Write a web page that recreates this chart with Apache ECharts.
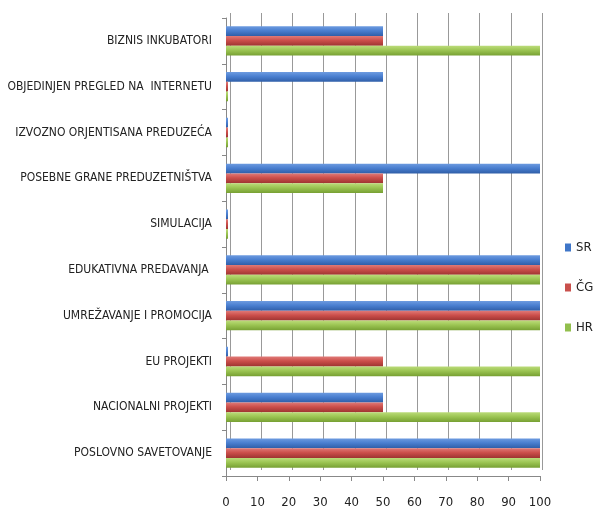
<!DOCTYPE html>
<html>
<head>
<meta charset="utf-8">
<script src="https://cdn.jsdelivr.net/npm/echarts@6/dist/echarts.min.js"></script>
<style>html,body{margin:0;padding:0;background:#fff}#c{width:606px;height:511px}</style>
</head>
<body>
<div id="c"></div>
<script>
var categories = ['BIZNIS INKUBATORI','OBJEDINJEN PREGLED NA  INTERNETU','IZVOZNO ORJENTISANA PREDUZEĆA','POSEBNE GRANE PREDUZETNIŠTVA','SIMULACIJA','EDUKATIVNA PREDAVANJA ','UMREŽAVANJE I PROMOCIJA','EU PROJEKTI','NACIONALNI PROJEKTI','POSLOVNO SAVETOVANJE'];
var seriesNames = ['SR','ČG','HR'];
var srValues = [50, 50, 0, 100, 0, 100, 100, 0, 50, 100];
var cgValues = [50, 0, 0, 50, 0, 100, 100, 50, 50, 100];
var hrValues = [100, 0, 0, 50, 0, 100, 100, 100, 100, 100];
var xTicks = [0,10,20,30,40,50,60,70,80,90,100];

var FONT = '"DejaVu Sans Condensed", "Liberation Sans Narrow", sans-serif';
function grad(light, mid, dark){
  return new echarts.graphic.LinearGradient(0,0,0,1,[
    {offset:0,color:light},{offset:0.45,color:mid},{offset:1,color:dark}]);
}
var colors = [
  grad('#6d9be0','#4a7fd0','#2f5ea8'),
  grad('#e07a77','#cc4f4b','#9e3431'),
  grad('#bcdc7a','#9cc553','#77a033')
];
var legendColors = ['#3f76c8','#c9504c','#92bf4d'];
var vals = [srValues, cgValues, hrValues];
var series = seriesNames.map(function(n,i){
  return {
    name:n, type:'bar', data:vals[i], xAxisIndex:0, yAxisIndex:0,
    barGap:'0%', barCategoryGap:'36%', barMinHeight:2,
    itemStyle:{color:colors[i]}
  };
});
var chart = echarts.init(document.getElementById('c'));
chart.setOption({
  animation:false,
  textStyle:{fontFamily:FONT},
  grid:[
    {left:226,right:66,top:18,bottom:35,containLabel:false,outerBoundsMode:'none'},
    {left:230,right:64,top:13,bottom:41,containLabel:false,outerBoundsMode:'none'}
  ],
  legend:{
    orient:'vertical', left:560, top:236, itemWidth:6, itemHeight:8, itemGap:27,
    icon:'rect',
    textStyle:{fontSize:13,color:'#222',fontFamily:FONT},
    data:seriesNames.map(function(n,i){return {name:n,itemStyle:{color:legendColors[i]}};})
  },
  xAxis:[{
    gridIndex:0, type:'value', min:0, max:100, interval:10,
    axisLine:{show:true,lineStyle:{color:'#888'}},
    axisTick:{show:true,length:5,inside:false,lineStyle:{color:'#888'}},
    splitLine:{show:false},
    axisLabel:{margin:20,fontSize:13,color:'#222',fontFamily:FONT,
      formatter:function(v){return xTicks.indexOf(v)>=0?String(v):'';}}
  },{
    gridIndex:1, type:'value', min:0, max:100, interval:10,
    axisLine:{show:false}, axisTick:{show:false}, axisLabel:{show:false},
    splitLine:{show:true,lineStyle:{color:'#999',width:1}}
  }],
  yAxis:[{
    gridIndex:0, type:'category', data:categories, inverse:true,
    axisLine:{show:true,lineStyle:{color:'#888'}},
    axisTick:{show:true,length:4,lineStyle:{color:'#888'}},
    axisLabel:{margin:14,fontSize:12,color:'#222',fontFamily:FONT}
  },{
    gridIndex:1, type:'category', data:categories, inverse:true,
    axisLine:{show:false}, axisTick:{show:false}, axisLabel:{show:false}, splitLine:{show:false}
  }],
  series:series
});
</script>
</body>
</html>
